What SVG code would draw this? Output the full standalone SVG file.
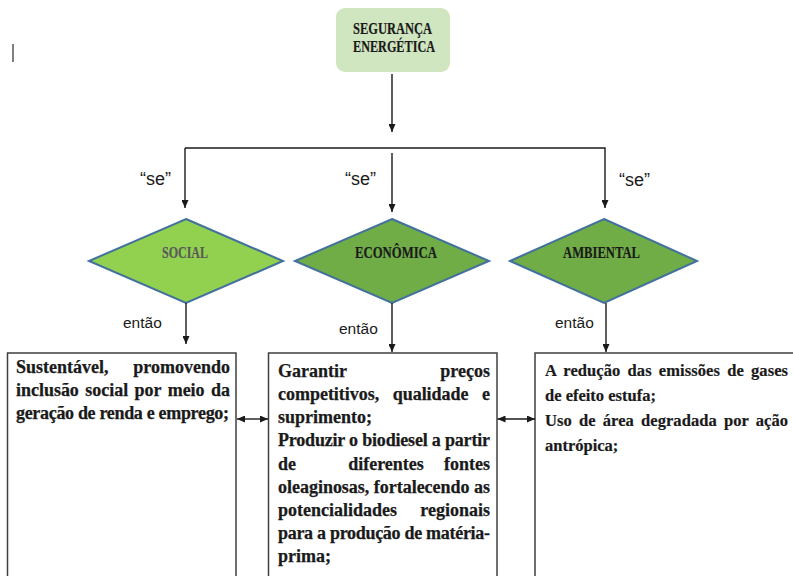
<svg xmlns="http://www.w3.org/2000/svg" width="793" height="576" viewBox="0 0 793 576">
  <defs>
    <marker id="ah" viewBox="0 0 8 7" markerWidth="8" markerHeight="7" refX="8" refY="3.5" orient="auto-start-reverse" markerUnits="userSpaceOnUse">
      <path d="M0,0 L8,3.5 L0,7 z" fill="#1a1a1a"/>
    </marker>
    <style>
      .conn { fill: none; stroke: #1a1a1a; stroke-width: 1.4; }
      .arr { marker-end: url(#ah); }
      .dbl { marker-start: url(#ah); marker-end: url(#ah); }
      .dia { stroke: #41719c; stroke-width: 2; }
      .hd { font-family: "Liberation Serif", "Times New Roman", serif; font-weight: bold; font-size: 16.5px; fill: #1a1a1a; stroke: #1a1a1a; stroke-width: 0.2; }
      .lbl { font-family: "Liberation Sans", Arial, sans-serif; fill: #1a1a1a; }
      .box { fill: #ffffff; stroke: #3f3f3f; stroke-width: 1.5; }
      .bt { font-family: "Liberation Serif", "Times New Roman", serif; font-weight: bold; font-size: 18px; fill: #1a1a1a; stroke: #1a1a1a; stroke-width: 0.25; }
      .bt2 { font-family: "Liberation Serif", "Times New Roman", serif; font-weight: bold; font-size: 16.5px; fill: #1a1a1a; stroke: #1a1a1a; stroke-width: 0.2; }
    </style>
  </defs>

  <rect width="793" height="576" fill="#ffffff"/>
  <line x1="13" y1="44" x2="13" y2="62" stroke="#555" stroke-width="1.5"/>

  <g id="seguranca">
    <rect x="336" y="8" width="114" height="64" rx="9" fill="#d0e6c0"/>
    <text class="hd" x="353" y="34" textLength="79" lengthAdjust="spacingAndGlyphs">SEGURANÇA</text>
    <text class="hd" x="353" y="52" textLength="82" lengthAdjust="spacingAndGlyphs">ENERGÉTICA</text>
  </g>

  <g id="social">
    <polygon class="dia" points="186,219 283,261 186,303 89,261" fill="#92d050"/>
    <text class="hd" x="162" y="258" textLength="46" lengthAdjust="spacingAndGlyphs" style="fill:#595959;stroke:#595959">SOCIAL</text>
  </g>
  <g id="economica">
    <polygon class="dia" points="392,219 489,261 392,303 295,261" fill="#70ad47"/>
    <text class="hd" x="355" y="258" textLength="82" lengthAdjust="spacingAndGlyphs">ECONÔMICA</text>
  </g>
  <g id="ambiental">
    <polygon class="dia" points="604,219 697,261 604,303 510,261" fill="#70ad47"/>
    <text class="hd" x="563" y="258" textLength="77" lengthAdjust="spacingAndGlyphs">AMBIENTAL</text>
  </g>

  <g id="box-social">
    <rect class="box" x="7.5" y="353" width="228.5" height="240"/>
    <text class="bt" x="16" y="373">Sustentável,</text>
    <text class="bt" x="230" y="373" text-anchor="end">promovendo</text>
    <text class="bt" x="16" y="396" word-spacing="2" textLength="214" lengthAdjust="spacing">inclusão social por meio da</text>
    <text class="bt" x="16" y="419" textLength="213" lengthAdjust="spacing">geração de renda e emprego;</text>
  </g>

  <g id="box-economica">
    <rect class="box" x="268.5" y="353" width="228.5" height="240"/>
    <text class="bt" x="278" y="376.5">Garantir</text>
    <text class="bt" x="490" y="376.5" text-anchor="end">preços</text>
    <text class="bt" x="278" y="399.5" word-spacing="9" textLength="212" lengthAdjust="spacing">competitivos, qualidade e</text>
    <text class="bt" x="278" y="423">suprimento;</text>
    <text class="bt" x="278" y="446" textLength="212" lengthAdjust="spacing">Produzir o biodiesel a partir</text>
    <text class="bt" x="278" y="469.5">de</text>
    <text class="bt" x="386" y="469.5" text-anchor="middle">diferentes</text>
    <text class="bt" x="490" y="469.5" text-anchor="end">fontes</text>
    <text class="bt" x="278" y="492.5" textLength="212" lengthAdjust="spacing">oleaginosas, fortalecendo as</text>
    <text class="bt" x="278" y="516">potencialidades</text>
    <text class="bt" x="490" y="516" text-anchor="end">regionais</text>
    <text class="bt" x="278" y="539" textLength="212" lengthAdjust="spacing">para a produção de matéria-</text>
    <text class="bt" x="278" y="562">prima;</text>
  </g>

  <g id="box-ambiental">
    <rect class="box" x="535" y="353" width="270" height="240"/>
    <text class="bt2" x="545" y="376" word-spacing="3" textLength="243" lengthAdjust="spacing">A redução das emissões de gases</text>
    <text class="bt2" x="545" y="401">de efeito estufa;</text>
    <text class="bt2" x="545" y="426" word-spacing="3" textLength="243" lengthAdjust="spacing">Uso de área degradada por ação</text>
    <text class="bt2" x="545" y="451">antrópica;</text>
  </g>

  <g id="labels">
    <text class="lbl" x="140" y="185" font-size="18">“se”</text>
    <text class="lbl" x="345" y="185" font-size="18">“se”</text>
    <text class="lbl" x="619" y="186" font-size="18">“se”</text>
    <text class="lbl" x="123" y="328" font-size="15.5">então</text>
    <text class="lbl" x="339" y="334" font-size="15.5">então</text>
    <text class="lbl" x="555" y="328" font-size="15.5">então</text>
  </g>

  <g id="connectors">
    <path class="conn arr" d="M392,74 V132"/>
    <path class="conn arr" d="M185,148 H605 V208"/>
    <path class="conn arr" d="M185,148 V208"/>
    <path class="conn arr" d="M392,153 V212"/>
    <path class="conn arr" d="M186,303 V344"/>
    <path class="conn arr" d="M392,303 V352"/>
    <path class="conn arr" d="M606,303 V352"/>
    <path class="conn dbl" d="M237,419 H268"/>
    <path class="conn dbl" d="M497.5,419 H535"/>
  </g>
</svg>
